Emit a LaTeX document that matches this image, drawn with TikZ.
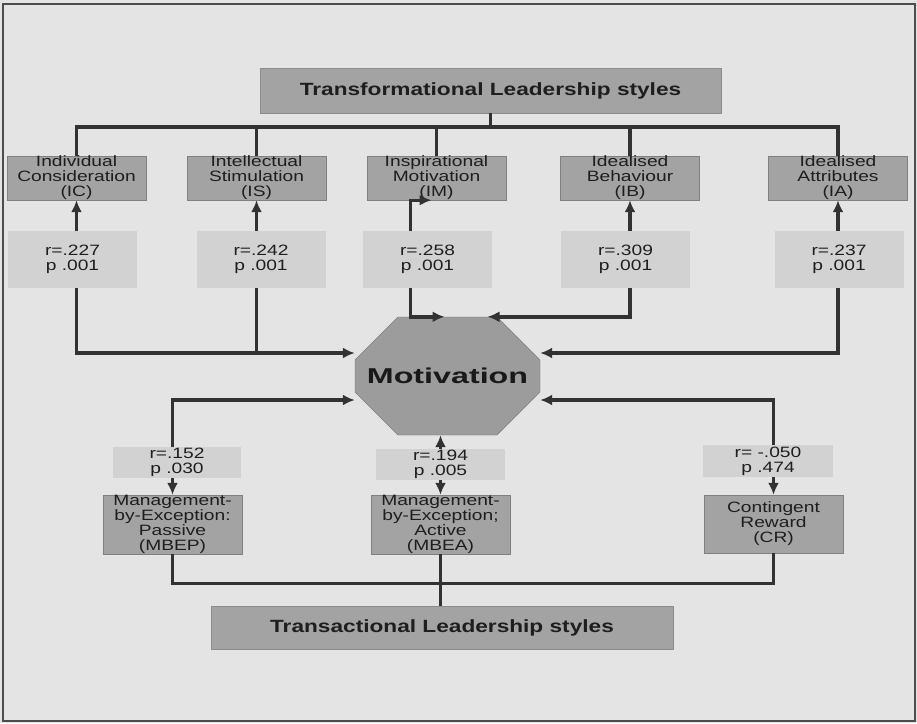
\documentclass[tikz,border=0pt]{standalone}
\usepackage{fontspec}
\setmainfont[FakeStretch=1.28]{Liberation Sans}
\newfontfamily\motfont[FakeStretch=1.5]{Liberation Sans}
\usetikzlibrary{arrows.meta,shapes.misc}
\definecolor{bggrey}{RGB}{228,228,228}
\definecolor{boxgrey}{RGB}{163,163,163}
\definecolor{statgrey}{RGB}{210,210,210}
\definecolor{octgrey}{RGB}{156,156,156}
\definecolor{linegrey}{RGB}{50,50,50}
\definecolor{txtgrey}{RGB}{30,30,30}
\tikzset{
  lbox/.style={draw=black!50,fill=boxgrey,minimum width=139pt,minimum height=44pt,
    inner sep=0pt,align=center,text=txtgrey,font=\fontsize{15}{15}\selectfont},
  tbox/.style={draw=black!45,fill=boxgrey,minimum width=461pt,minimum height=45pt,
    inner sep=0pt,text=txtgrey,font=\fontsize{17.7}{18}\selectfont\bfseries},
  statbox/.style={fill=statgrey,minimum width=129pt,minimum height=57pt,
    inner sep=0pt,align=center,text=txtgrey,font=\fontsize{15}{15}\selectfont},
  motbox/.style={chamfered rectangle,chamfered rectangle xsep=54pt,chamfered rectangle ysep=35pt,
    draw=black!55,fill=octgrey,minimum width=185pt,minimum height=118pt,inner sep=0pt,
    text=black!90,font=\motfont\fontsize{21.5}{22}\selectfont\bfseries},
  conn/.style={draw=linegrey,line width=3.4pt}
}

\begin{document}
\begin{tikzpicture}[x=1pt,y=-1pt,>={Latex[length=12pt,width=11pt]}]
  \useasboundingbox (0,0) rectangle (917,723);
  \fill[bggrey] (0,0) rectangle (917,723);
  \draw[black!70,line width=1.5pt] (3,4) rectangle (915,721);

  % transformational styles
  \node[tbox] (tl) at (490.5,90.5) {Transformational Leadership styles};
  \foreach \nm/\x/\txt in {ic/76.5/{Individual\\Consideration\\(IC)},
      is/256.5/{Intellectual\\Stimulation\\(IS)},
      im/436.5/{Inspirational\\Motivation\\(IM)},
      ib/630/{Idealised\\Behaviour\\(IB)},
      ia/838/{Idealised\\Attributes\\(IA)}}
    \node[lbox] (\nm) at (\x,178) {\txt};
  \foreach \nm/\x/\r in {ic/72.5/.227,is/261/.242,im/427.5/.258,ib/625.5/.309,ia/839/.237}
    \node[statbox] (s\nm) at (\x,259.5) {r=\r\\p .001};

  \node[motbox] (mot) at (447.5,376) {Motivation};

  % transactional styles
  \node[lbox,minimum height=59pt] (mbep) at (172.5,524.5) {Management-\\by-Exception:\\Passive\\(MBEP)};
  \node[lbox,minimum height=59pt] (mbea) at (440.5,524.5) {Management-\\by-Exception;\\Active\\(MBEA)};
  \node[lbox,minimum height=58pt] (cr) at (773.5,524) {Contingent\\Reward\\(CR)};
  \node[statbox,minimum height=31pt,minimum width=128pt] (smbep) at (177,462.5) {r=.152\\p .030};
  \node[statbox,minimum height=31pt] (smbea) at (440.5,464.5) {r=.194\\p .005};
  \node[statbox,minimum height=32pt,minimum width=130pt] (scr) at (768,461) {r= -.050\\p .474};
  \node[tbox,minimum width=462pt,minimum height=43pt] (trl) at (442,627.5) {Transactional Leadership styles};

  % points on the octagon
  \coordinate (bus) at (490.5,127);
  \coordinate (mul) at ([yshift=23pt]mot.west);
  \coordinate (mll) at ([yshift=-24pt]mot.west);
  \coordinate (mur) at ([yshift=23pt]mot.east);
  \coordinate (mlr) at ([yshift=-24pt]mot.east);
  \coordinate (mtl) at ([xshift=-37pt]mot.north);
  \coordinate (mtr) at ([xshift=40pt]mot.north);

  \draw[conn] (tl.south) -- (bus);
  \draw[conn] (ic.north) |- (bus) -| (ia.north);
  \foreach \nm in {is,im,ib}
    \draw[conn] (\nm.north) -- (\nm.north |- bus);
  \foreach \nm in {ic,is,ib,ia}
    \draw[conn,->] (\nm.south |- s\nm.north) -- (\nm.south);
  \draw[conn,->] (mtl |- sim.north) |- ([xshift=-5pt]im.south);

  \draw[conn,->] (ic.south |- sic.south) |- (mul);
  \draw[conn] (is.south |- sis.south) -- (is.south |- mul);
  \draw[conn,->] (mtl |- sim.south) |- ([xshift=-3pt]mot.north);
  \draw[conn,->] (ib.south |- sib.south) |- (mtr);
  \draw[conn,->] (ia.south |- sia.south) |- (mur);

  \draw[conn,->] (mbep.north |- smbep.north) |- (mll);
  \draw[conn,->] (mbea.north |- smbea.north) -- (mbea.north |- mot.south);
  \draw[conn,->] (cr.north |- scr.north) |- (mlr);
  \foreach \nm in {mbep,mbea,cr}
    \draw[conn,->] (\nm.north |- s\nm.south) -- (\nm.north);
  \draw[conn] (mbep.south) -- ++(0,29) -| (cr.south);
  \draw[conn] (mbea.south) -- (mbea.south |- trl.north);
\end{tikzpicture}
\end{document}
